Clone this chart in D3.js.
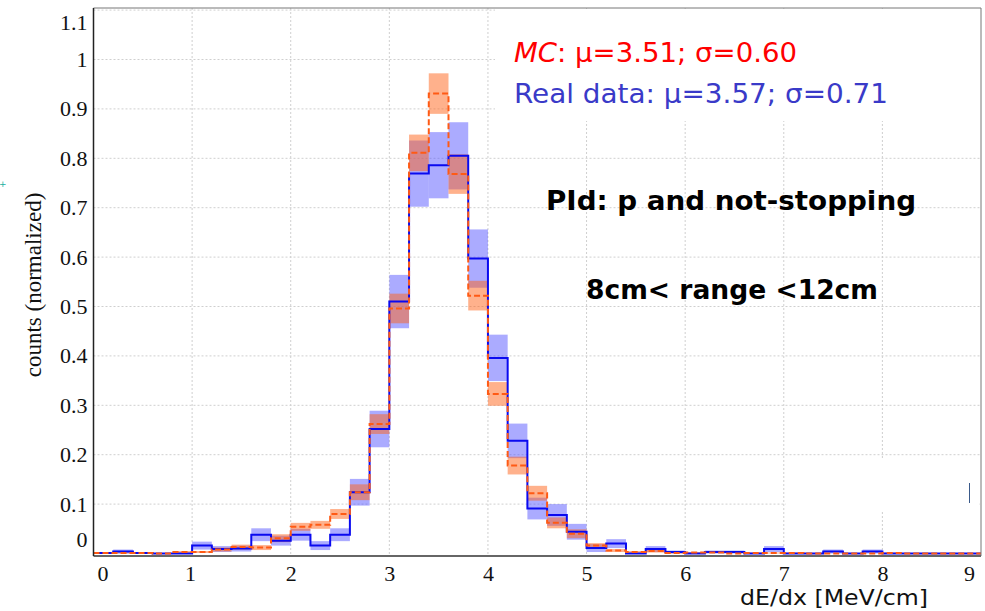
<!DOCTYPE html>
<html>
<head>
<meta charset="utf-8">
<script src="https://cdn.jsdelivr.net/npm/d3@7"></script>
<style>
  html, body { margin: 0; padding: 0; background: #fff; }
  svg { display: block; }
</style>
</head>
<body>
<svg id="chart" width="985" height="611"></svg>
<script>
// ---------------- data ----------------
const binLow = [0.0,0.2,0.4,0.6,0.8,1.0,1.2,1.4,1.6,1.8,2.0,2.2,2.4,2.6,2.8,3.0,3.2,3.4,3.6,3.8,
                4.0,4.2,4.4,4.6,4.8,5.0,5.2,5.4,5.6,5.8,6.0,6.2,6.4,6.6,6.8,7.0,7.2,7.4,7.6,7.8,
                8.0,8.2,8.4,8.6,8.8];
const binWidth = 0.2;

const realVals = [0.001,0.004,0.001,0,0,0.016,0.009,0.010,0.038,0.026,0.038,0.016,0.038,0.124,0.252,
                  0.510,0.769,0.786,0.805,0.597,0.396,0.228,0.091,0.078,0.044,0.011,0.020,0,0.009,0.003,
                  0,0.003,0.003,0,0.009,0,0,0.004,0,0.004,0,0,0,0,0];
const realErr  = [0.001,0.004,0.001,0,0,0.008,0.006,0.006,0.013,0.010,0.012,0.009,0.013,0.027,0.037,
                  0.054,0.067,0.067,0.068,0.059,0.047,0.035,0.022,0.022,0.016,0.008,0.009,0,0.006,0.003,
                  0,0.003,0.003,0,0.006,0,0,0.004,0,0.004,0,0,0,0,0];
const mcVals   = [0.001,0.001,0.001,0,0.003,0.003,0.008,0.013,0.012,0.031,0.054,0.058,0.080,0.124,0.262,
                  0.496,0.811,0.931,0.768,0.522,0.323,0.178,0.122,0.062,0.040,0.016,0.006,0.003,0.005,0.001,
                  0.002,0.002,0,0.001,0.001,0.001,0,0,0,0,0.001,0,0,0,0];
const mcErr    = [0.001,0.001,0.001,0,0.002,0.002,0.004,0.005,0.005,0.008,0.008,0.008,0.010,0.016,0.020,
                  0.030,0.037,0.041,0.040,0.030,0.024,0.018,0.015,0.011,0.009,0.005,0.003,0.002,0.003,0.001,
                  0.001,0.001,0,0.001,0.001,0.001,0,0,0,0,0.001,0,0,0,0];

const xTicks = [0,1,2,3,4,5,6,7,8,9];
const yTicks = [0,0.1,0.2,0.3,0.4,0.5,0.6,0.7,0.8,0.9,1,1.1];
const yTickLabels = ["0","0.1","0.2","0.3","0.4","0.5","0.6","0.7","0.8","0.9","1","1.1"];

const mcLabel = {name: "MC", rest: ": μ=3.51; σ=0.60"};
const realLabel = "Real data: μ=3.57; σ=0.71";
const noteLines = ["PId: p and not-stopping", "8cm< range <12cm"];
const xTitle = "dE/dx [MeV/cm]";
const yTitle = "counts (normalized)";

// ---------------- layout ----------------
const svg = d3.select("#chart");
const plot = {left: 93.5, right: 981, top: 8, bottom: 556};
const x = d3.scaleLinear().domain([0, 9]).range([plot.left, plot.right]);
const y = d3.scaleLinear().domain([0, 1]).range([553.5, 59.5]);

// grid
const grid = svg.append("g");
grid.selectAll("line.h").data(yTicks.filter(v => v > 0)).enter().append("line")
  .attr("x1", plot.left).attr("x2", plot.right)
  .attr("y1", d => y(d)).attr("y2", d => y(d))
  .attr("stroke", "#cfcfcf").attr("stroke-width", 1).attr("stroke-dasharray", "2,2");
grid.selectAll("line.v").data(xTicks.filter(v => v > 0 && v < 9)).enter().append("line")
  .attr("x1", d => x(d)).attr("x2", d => x(d))
  .attr("y1", plot.top).attr("y2", plot.bottom)
  .attr("stroke", "#cfcfcf").attr("stroke-width", 1).attr("stroke-dasharray", "2,2");

// white text boxes over grid (as in reference)
svg.append("rect").attr("x", 495).attr("y", plot.top + 1).attr("width", plot.right - 496).attr("height", 112).attr("fill", "#fff");
svg.append("rect").attr("x", 786).attr("y", 459).attr("width", plot.right - 788).attr("height", 53).attr("fill", "#fff");
svg.append("line").attr("x1", 969.5).attr("x2", 969.5).attr("y1", 483).attr("y2", 503)
  .attr("stroke", "#3a5a8a").attr("stroke-width", 1);

// bands
const rows = binLow.map((lo, i) => ({lo, rv: realVals[i], re: realErr[i], mv: mcVals[i], me: mcErr[i]}));
svg.append("g").selectAll("rect").data(rows.filter(d => d.re > 0)).enter().append("rect")
  .attr("x", d => x(d.lo)).attr("width", d => x(d.lo + binWidth) - x(d.lo))
  .attr("y", d => y(d.rv + d.re)).attr("height", d => y(d.rv - d.re) - y(d.rv + d.re))
  .attr("fill", "rgb(80,80,255)").attr("fill-opacity", 0.48);
svg.append("g").selectAll("rect").data(rows.filter(d => d.me > 0)).enter().append("rect")
  .attr("x", d => x(d.lo)).attr("width", d => x(d.lo + binWidth) - x(d.lo))
  .attr("y", d => y(d.mv + d.me)).attr("height", d => y(d.mv - d.me) - y(d.mv + d.me))
  .attr("fill", "rgb(255,100,25)").attr("fill-opacity", 0.5);

// step lines
function stepPts(vals) {
  const pts = binLow.map((lo, i) => [lo, vals[i]]);
  pts.push([binLow[binLow.length - 1] + binWidth, vals[vals.length - 1]]);
  return pts;
}
const step = d3.line().x(d => x(d[0])).y(d => y(d[1])).curve(d3.curveStepAfter);
svg.append("path").attr("d", step(stepPts(realVals)))
  .attr("fill", "none").attr("stroke", "#0a0af0").attr("stroke-width", 2);
svg.append("path").attr("d", step(stepPts(mcVals)))
  .attr("fill", "none").attr("stroke", "#ff5a14").attr("stroke-width", 2)
  .attr("stroke-dasharray", "6,3");

// frame
svg.append("line").attr("x1", plot.left).attr("x2", plot.right).attr("y1", plot.top).attr("y2", plot.top)
  .attr("stroke", "#777").attr("stroke-width", 1);
svg.append("line").attr("x1", plot.right).attr("x2", plot.right).attr("y1", plot.top).attr("y2", plot.bottom)
  .attr("stroke", "#777").attr("stroke-width", 1);
svg.append("line").attr("x1", plot.left).attr("x2", plot.right).attr("y1", plot.bottom).attr("y2", plot.bottom)
  .attr("stroke", "#666").attr("stroke-width", 2);
svg.append("line").attr("x1", plot.left).attr("x2", plot.left).attr("y1", plot.top).attr("y2", plot.bottom)
  .attr("stroke", "#222").attr("stroke-width", 1.5);

// axes (labels only)
const xAxis = d3.axisBottom(x).tickValues(xTicks).tickSize(0).tickPadding(9).tickFormat(d3.format("d"));
const gx = svg.append("g").attr("transform", `translate(0,${plot.bottom})`).call(xAxis);
gx.select(".domain").remove();
gx.selectAll("text").attr("font-family", "'Liberation Serif', serif").attr("font-size", 22).attr("fill", "#111")
  .attr("dx", d => d === 0 ? 9 : (d === 9 ? -12 : (d === 1 ? -2 : 0)));

const yAxis = d3.axisLeft(y).tickValues(yTicks).tickSize(0).tickPadding(6)
  .tickFormat((d, i) => yTickLabels[i]);
const gy = svg.append("g").attr("transform", `translate(${plot.left},0)`).call(yAxis);
gy.select(".domain").remove();
gy.selectAll("text").attr("font-family", "'Liberation Serif', serif").attr("font-size", 22).attr("fill", "#111")
  .attr("dy", d => d === 0 ? "-0.3em" : (d === 1.1 ? "0.9em" : "0.32em"))
  .attr("x", -6);

// titles
svg.append("text").attr("transform", "translate(41,285) rotate(-90)").attr("text-anchor", "middle")
  .attr("font-family", "'Liberation Serif', serif").attr("font-size", 23).attr("fill", "#111").text(yTitle);
svg.append("text").attr("x", 740).attr("y", 605).attr("textLength", 188).attr("lengthAdjust", "spacingAndGlyphs")
  .attr("font-family", "'DejaVu Sans', sans-serif").attr("font-size", 21).attr("fill", "#111").text(xTitle);

// annotations
const t1 = svg.append("text").attr("x", 514).attr("y", 62).attr("textLength", 283).attr("lengthAdjust", "spacingAndGlyphs")
  .attr("font-family", "'DejaVu Sans', sans-serif").attr("font-size", 27).attr("fill", "#ff0000");
t1.append("tspan").attr("font-style", "italic").text(mcLabel.name);
t1.append("tspan").text(mcLabel.rest);
svg.append("text").attr("x", 514).attr("y", 103).attr("textLength", 374).attr("lengthAdjust", "spacingAndGlyphs")
  .attr("font-family", "'DejaVu Sans', sans-serif").attr("font-size", 27).attr("fill", "#3a3ac8").text(realLabel);
svg.append("text").attr("x", 546).attr("y", 210).attr("textLength", 370).attr("lengthAdjust", "spacingAndGlyphs")
  .attr("font-family", "'DejaVu Sans', sans-serif").attr("font-weight", "bold").attr("font-size", 26).attr("fill", "#000").text(noteLines[0]);
svg.append("text").attr("x", 586).attr("y", 299).attr("textLength", 292).attr("lengthAdjust", "spacingAndGlyphs")
  .attr("font-family", "'DejaVu Sans', sans-serif").attr("font-weight", "bold").attr("font-size", 26).attr("fill", "#000").text(noteLines[1]);

// small cyan mark at left edge
svg.append("text").attr("x", -1).attr("y", 187).attr("font-family", "'DejaVu Sans', sans-serif")
  .attr("font-size", 9).attr("fill", "#20b0a0").text("+");
</script>
</body>
</html>
